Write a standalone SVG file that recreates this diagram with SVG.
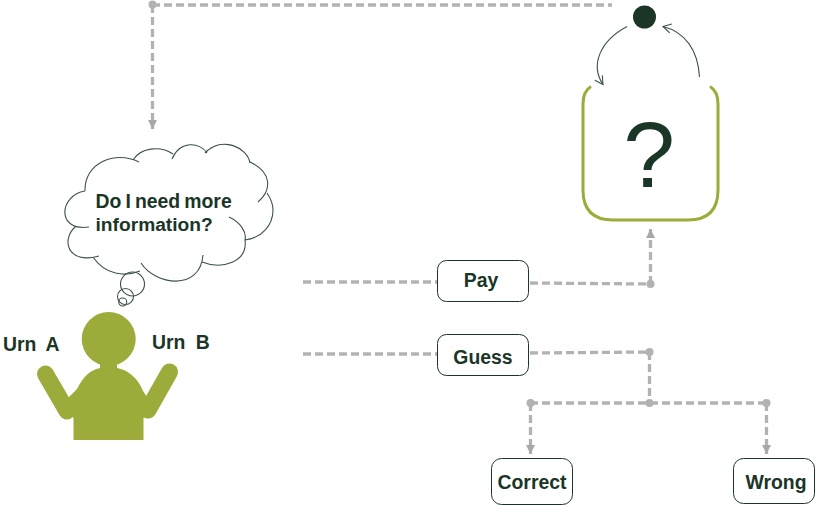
<svg xmlns="http://www.w3.org/2000/svg" width="819" height="505" viewBox="0 0 819 505">
<style>
text{font-family:"Liberation Sans",Arial,sans-serif;font-weight:bold;font-size:19.400px;fill:#1b3627}
.dash{fill:none;stroke:#b2b2b2;stroke-width:3.300;stroke-dasharray:8 4}
.dot{fill:#b2b2b2}
.box{fill:#fff;stroke:#1b3627;stroke-width:1}
.thin{fill:none;stroke:#3c5248;stroke-width:1.100}
.c{text-anchor:middle}
.arm{stroke:#9cab3a;stroke-width:17;stroke-linecap:round;fill:none}
</style>
<defs>
<marker id="g" markerUnits="userSpaceOnUse" markerWidth="10" markerHeight="9" refX="9" refY="4.500" orient="auto"><path d="M0 0L9 4.500L0 9Z" fill="#a8a8a8"/></marker>
<marker id="o" markerUnits="userSpaceOnUse" markerWidth="12" markerHeight="12" refX="9" refY="6" orient="auto"><path d="M1 1.500L9 6L1 10.500" fill="none" stroke="#3c5248" stroke-width="1.100"/></marker>
</defs>
<g id="connectors">
<path class="dash" d="M152 5H612"/>
<path class="dash" d="M152.500 5V129" marker-end="url(#g)"/>
<path class="dash" d="M303 282L437 282"/>
<path class="dash" d="M530 283L650 284"/>
<path class="dash" d="M650.500 284V229" marker-end="url(#g)"/>
<path class="dash" d="M303 354L437 354"/>
<path class="dash" d="M530 353L649 352"/>
<path class="dash" d="M649.500 352V403"/>
<path class="dash" d="M530 403H766"/>
<path class="dash" d="M530.500 403V454" marker-end="url(#g)"/>
<path class="dash" d="M766.500 403V454" marker-end="url(#g)"/>
<circle class="dot" cx="152.500" cy="4.500" r="4"/>
<circle class="dot" cx="650.500" cy="284" r="4"/>
<circle class="dot" cx="649.500" cy="352" r="4"/>
<circle class="dot" cx="649.500" cy="403" r="4"/>
<circle class="dot" cx="530.500" cy="403" r="4"/>
<circle class="dot" cx="766.500" cy="403" r="4"/>
<path class="thin" d="M627 26.500C600 41 590 65 603 84.500" marker-end="url(#o)"/>
<path class="thin" d="M699.500 77C698 50 685 32 663 26.500" marker-end="url(#o)"/>
</g>
<g id="token"><circle cx="644.500" cy="17" r="11.500" fill="#1b3627"/></g>
<g id="question">
<path d="M591 86.500C585 90 583 95 583 104V190Q583 220 613 220H688Q718 220 718 190V104C718 95 716 90 710 86.500" fill="none" stroke="#9cab3a" stroke-width="3"/>
<text x="649" y="187" class="c" style="font-weight:normal;font-size:93px">?</text>
</g>
<g id="thought">
<path class="thin" d="M139 162C115 150 84 163 85 191M85 191C59 195 56 232 89 227M76 226C60 240 68 265 99 256M93 257C105 275 125 277 140 271M141 263C155 285 200 292 203 255M202 262C222 270 248 262 245 240C247 232 240 222 229 217M245 240C262 238 273 225 273 210C273 203 269 196 267 193M258 202C272 190 272 172 250 162M250 163C248 148 222 135 205 153M207 153C200 142 180 140 172 159M173 154C160 145 140 148 133 160"/>
<circle class="thin" cx="132.500" cy="284" r="12"/>
<circle class="thin" cx="125.500" cy="296.500" r="8"/>
<circle class="thin" cx="122.700" cy="302" r="4"/>
<text x="95.500" y="208" word-spacing="-1.300">Do I need more</text>
<text x="95.500" y="231" style="font-size:19.200px">information?</text>
</g>
<g id="person" fill="#9cab3a">
<circle cx="108.700" cy="339" r="27"/>
<path class="arm" d="M45.500 374L67 411"/>
<path class="arm" d="M169.500 372L148 410"/>
<path d="M100 362H117V368C128 370 138 378 143 391L147 397V412L143.500 418V440H73.500V418L69 412V397L77 389C83 377 90 370 100 368Z"/>
</g>
<g id="urn-a"><text x="3" y="351" word-spacing="4.500">Urn A</text></g>
<g id="urn-b"><text x="152" y="349" word-spacing="5">Urn B</text></g>
<g id="pay"><rect class="box" x="437.500" y="260.500" width="91" height="41" rx="9"/><text x="481" y="287" class="c">Pay</text></g>
<g id="guess"><rect class="box" x="437.500" y="334.500" width="91" height="41" rx="9"/><text x="483" y="364" class="c">Guess</text></g>
<g id="correct"><rect class="box" x="491.500" y="458.500" width="81" height="46" rx="10"/><text x="532" y="489" class="c">Correct</text></g>
<g id="wrong"><rect class="box" x="733.500" y="458.500" width="81" height="45" rx="10"/><text x="776" y="489" class="c">Wrong</text></g>
</svg>
